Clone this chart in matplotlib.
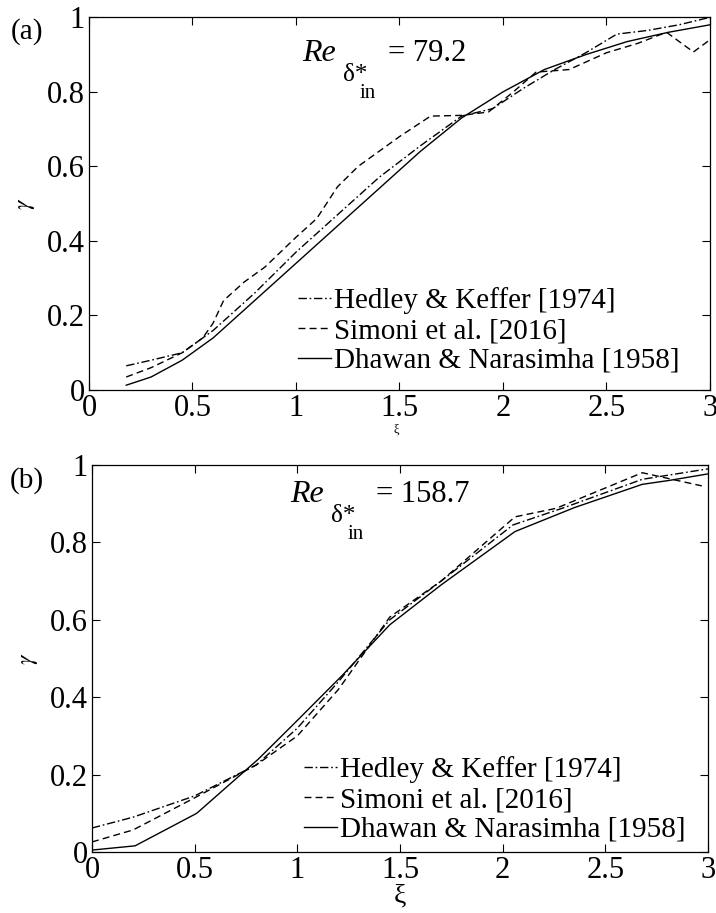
import matplotlib
matplotlib.use("Agg")
import matplotlib.pyplot as plt
from matplotlib.ticker import FuncFormatter

plt.rcParams['font.family'] = ['Liberation Serif', 'DejaVu Serif']
plt.rcParams['mathtext.fontset'] = 'stix'

# ---- panel (a): Re = 79.2 ----
xi_a_hk = [0.18, 0.3, 0.45, 0.6, 0.8, 1.0, 1.2, 1.4, 1.6, 1.8, 1.95, 2.1, 2.25, 2.4, 2.55, 2.7, 2.85, 3.0]
g_a_hk = [0.065, 0.08, 0.10, 0.16, 0.26, 0.37, 0.47, 0.57, 0.655, 0.735, 0.755, 0.81, 0.86, 0.905, 0.955, 0.965, 0.98, 1.0]

xi_a_sim = [0.18, 0.3, 0.45, 0.55, 0.6, 0.65, 0.75, 0.85, 1.0, 1.1, 1.2, 1.3, 1.5, 1.65, 1.8, 1.93,
            2.05, 2.16, 2.32, 2.5, 2.65, 2.79, 2.92, 3.0]
g_a_sim = [0.035, 0.06, 0.10, 0.14, 0.18, 0.24, 0.29, 0.33, 0.41, 0.46, 0.545, 0.60, 0.68, 0.735, 0.737, 0.746,
           0.80, 0.853, 0.86, 0.905, 0.93, 0.96, 0.907, 0.94]

xi_a_dn = [0.18, 0.3, 0.45, 0.6, 0.8, 1.0, 1.2, 1.4, 1.6, 1.8, 2.0, 2.2, 2.4, 2.6, 2.8, 3.0]
g_a_dn = [0.013, 0.035, 0.08, 0.14, 0.24, 0.34, 0.44, 0.54, 0.64, 0.73, 0.80, 0.86, 0.90, 0.935, 0.96, 0.98]

# ---- panel (b): Re = 158.7 ----
xi_b_hk = [0.0, 0.2, 0.5, 0.8, 1.0, 1.2, 1.45, 1.7, 2.05, 2.3, 2.68, 3.0]
g_b_hk = [0.062, 0.09, 0.145, 0.225, 0.32, 0.44, 0.60, 0.70, 0.845, 0.89, 0.963, 0.99]

xi_b_sim = [0.0, 0.2, 0.5, 0.8, 1.0, 1.2, 1.45, 1.7, 2.06, 2.26, 2.68, 2.97]
g_b_sim = [0.026, 0.057, 0.14, 0.225, 0.30, 0.42, 0.607, 0.70, 0.866, 0.888, 0.98, 0.946]

xi_b_dn = [0.0, 0.21, 0.51, 0.81, 1.0, 1.22, 1.45, 1.7, 2.06, 2.35, 2.68, 2.81, 3.0]
g_b_dn = [0.005, 0.016, 0.10, 0.24, 0.34, 0.457, 0.587, 0.69, 0.828, 0.89, 0.95, 0.96, 0.977]

labels = ['Hedley & Keffer [1974]', 'Simoni et al. [2016]', 'Dhawan & Narasimha [1958]']
re_values = ['79.2', '158.7']

W, H = 716, 913
fig = plt.figure(figsize=(W / 100, H / 100), dpi=100)
ax_a = fig.add_axes([0.1243, 0.5728, 0.8673, 0.4082])
ax_b = fig.add_axes([0.1285, 0.0668, 0.8603, 0.4239])

panels = [
    (ax_a, xi_a_hk, g_a_hk, xi_a_sim, g_a_sim, xi_a_dn, g_a_dn),
    (ax_b, xi_b_hk, g_b_hk, xi_b_sim, g_b_sim, xi_b_dn, g_b_dn),
]

fmt = FuncFormatter(lambda v, p: '%g' % v)


def ftext(x, y, s, **kw):
    # place text by pixel position (from top-left) on the figure
    fig.text(x / W, 1 - y / H, s, va='baseline', ha='left', **kw)


legend_anchor = [(0.977, 0.0), (0.99, -0.018)]

for i, (ax, x1, y1, x2, y2, x3, y3) in enumerate(panels):
    ax.plot(x1, y1, color='black', lw=1.0, dashes=[6, 2, 1.2, 2], label=labels[0])
    ax.plot(x2, y2, color='black', lw=1.0, dashes=[5, 3], label=labels[1])
    ax.plot(x3, y3, color='black', lw=1.0, label=labels[2])
    ax.set_xlim(0, 3)
    ax.set_ylim(0, 1)
    ax.set_xticks([0, 0.5, 1, 1.5, 2, 2.5, 3])
    ax.set_yticks([0, 0.2, 0.4, 0.6, 0.8, 1])
    ax.xaxis.set_major_formatter(fmt)
    ax.yaxis.set_major_formatter(fmt)
    ax.tick_params(direction='in', top=True, right=True, length=6, width=0.8,
                   labelsize=22, pad=3)
    for s in ax.spines.values():
        s.set_linewidth(0.9)
    ax.set_ylabel(r'$\gamma$', fontsize=17, labelpad=7)
    ax.legend(loc='lower right', frameon=False, fontsize=21, handlelength=1.15,
              handletextpad=0.1, labelspacing=0.12, borderaxespad=0.15,
              bbox_to_anchor=legend_anchor[i])

# Reynolds number annotations
ftext(302, 61, 'Re', fontsize=23, style='italic')
ftext(343, 81, 'δ*', fontsize=18)
ftext(360, 98, 'in', fontsize=15)
ftext(388, 61, '= ' + re_values[0], fontsize=22)

ftext(290, 502, 'Re', fontsize=23, style='italic')
ftext(331, 522, 'δ*', fontsize=18)
ftext(348, 539, 'in', fontsize=15)
ftext(376, 502, '= ' + re_values[1], fontsize=22)

# x labels
ftext(394, 433, 'ξ', fontsize=9)
ax_b.set_xlabel('ξ', fontsize=20, labelpad=-1)

fig.text(0.015, 0.966, '(a)', fontsize=21, va='center', ha='left')
fig.text(0.013, 0.474, '(b)', fontsize=21, va='center', ha='left')

fig.savefig('out.png', dpi=100)
